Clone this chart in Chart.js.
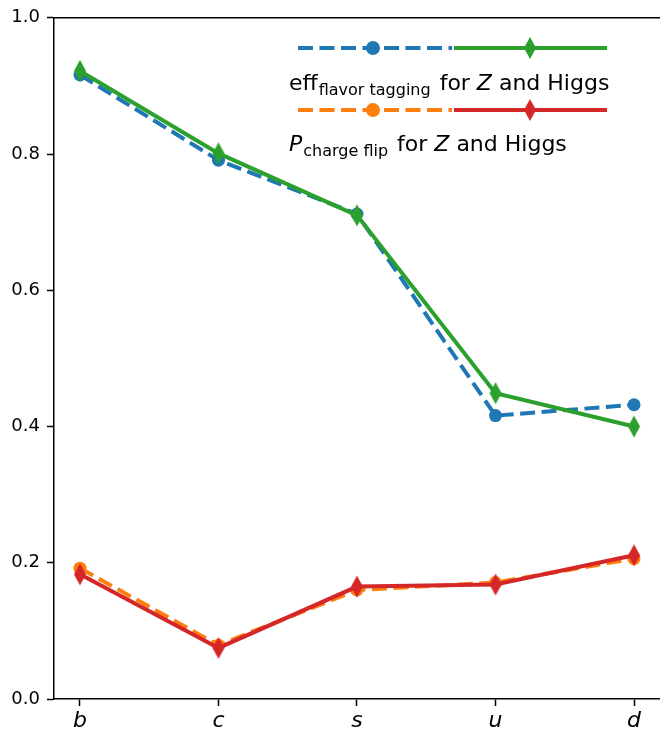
<!DOCTYPE html>
<html>
<head>
<meta charset="utf-8">
<script src="https://cdn.jsdelivr.net/npm/chart.js@4/dist/chart.umd.min.js"></script>
<style>
  html, body { margin: 0; padding: 0; background: #fff; }
  canvas { display: block; }
</style>
</head>
<body>
<canvas id="chart" width="660" height="736"></canvas>
<script>
var flavors = ['b', 'c', 's', 'u', 'd'];
var yTicks = [0.0, 0.2, 0.4, 0.6, 0.8, 1.0];

// flavour tagging efficiency
var effZ = [0.916, 0.791, 0.712, 0.416, 0.432];
var effHiggs = [0.922, 0.801, 0.710, 0.449, 0.400];
// charge flip probability
var flipZ = [0.192, 0.079, 0.160, 0.171, 0.206];
var flipHiggs = [0.183, 0.075, 0.165, 0.168, 0.211];

var BLUE = '#1f77b4', ORANGE = '#ff7f0e', GREEN = '#2ca02c', RED = '#d62728';
var FONT = '"DejaVu Sans", sans-serif';
var LW = 4;
var DASH = [15, 6.5];

function thinDiamond(color) {
  var c = document.createElement('canvas');
  c.width = 14; c.height = 24;
  var g = c.getContext('2d');
  g.fillStyle = color;
  g.beginPath();
  g.moveTo(7, 1); g.lineTo(13, 12); g.lineTo(7, 23); g.lineTo(1, 12);
  g.closePath();
  g.fill();
  return c;
}

function pts(vals) {
  return vals.map(function (v, i) { return { x: i, y: v }; });
}

function series(vals, color, dashed, order) {
  return {
    data: pts(vals),
    borderColor: color,
    backgroundColor: color,
    borderWidth: LW,
    borderDash: dashed ? DASH : [],
    pointStyle: dashed ? 'circle' : thinDiamond(color),
    pointRadius: 6.5,
    pointBorderWidth: 0,
    tension: 0,
    order: order
  };
}

// legend: two tuple handles (dashed+circle | solid+diamond) with labels below
var legendPlugin = {
  id: 'tupleLegend',
  afterDraw: function (chart) {
    var ctx = chart.ctx;
    var area = chart.chartArea;

    // top spine
    ctx.save();
    ctx.strokeStyle = '#000';
    ctx.lineWidth = 1.5;
    ctx.beginPath();
    ctx.moveTo(area.left, area.top);
    ctx.lineTo(660, area.top);
    ctx.stroke();
    ctx.restore();

    var rows = [
      { y: 48, c1: BLUE, c2: GREEN, main: 'eff', sub: 'flavor tagging', italic: false, base: 90 },
      { y: 110, c1: ORANGE, c2: RED, main: 'P', sub: 'charge flip', italic: true, base: 151 }
    ];
    rows.forEach(function (r) {
      ctx.save();
      ctx.lineWidth = LW;
      ctx.strokeStyle = r.c1;
      ctx.setLineDash(DASH);
      ctx.beginPath(); ctx.moveTo(298, r.y); ctx.lineTo(452, r.y); ctx.stroke();
      ctx.setLineDash([]);
      ctx.strokeStyle = r.c2;
      ctx.beginPath(); ctx.moveTo(454, r.y); ctx.lineTo(607, r.y); ctx.stroke();
      ctx.fillStyle = r.c1;
      ctx.beginPath(); ctx.arc(373, r.y, 7, 0, Math.PI * 2); ctx.fill();
      ctx.drawImage(thinDiamond(r.c2), 530 - 7, r.y - 12);

      ctx.fillStyle = '#000';
      ctx.textBaseline = 'alphabetic';
      ctx.textAlign = 'left';
      var x = 289;
      ctx.font = (r.italic ? 'italic ' : '') + '22px ' + FONT;
      ctx.fillText(r.main, x, r.base);
      x += ctx.measureText(r.main).width + 1;
      ctx.font = '16px ' + FONT;
      ctx.fillText(r.sub, x, r.base + 5);
      x += ctx.measureText(r.sub).width + 9;
      ctx.font = '22px ' + FONT;
      ctx.fillText('for ', x, r.base);
      x += ctx.measureText('for ').width;
      ctx.font = 'italic 22px ' + FONT;
      ctx.fillText('Z', x, r.base);
      x += ctx.measureText('Z').width;
      ctx.font = '22px ' + FONT;
      ctx.fillText(' and Higgs', x, r.base);
      ctx.restore();
    });
  }
};

var pad = 0.1877;

new Chart(document.getElementById('chart'), {
  type: 'line',
  data: {
    datasets: [
      series(effZ, BLUE, true, 4),
      series(flipZ, ORANGE, true, 3),
      series(effHiggs, GREEN, false, 2),
      series(flipHiggs, RED, false, 1)
    ]
  },
  options: {
    responsive: false,
    animation: false,
    layout: { autoPadding: false, padding: { top: 16, right: 0, left: 0, bottom: 0 } },
    plugins: { legend: { display: false }, tooltip: { enabled: false } },
    scales: {
      x: {
        type: 'linear',
        min: -pad,
        max: flavors.length - 1 + pad,
        afterBuildTicks: function (axis) {
          axis.ticks = flavors.map(function (f, i) { return { value: i }; });
        },
        afterFit: function (scale) {
          scale.height = 37;
          scale.paddingLeft = 0;
          scale.paddingRight = 0;
        },
        grid: { drawOnChartArea: false, tickLength: 7, color: '#000', tickWidth: 1.5 },
        border: { color: '#000', width: 1.5 },
        ticks: {
          color: '#000',
          padding: 2,
          maxRotation: 0,
          font: { family: FONT, size: 22, style: 'italic' },
          callback: function (v) { return flavors[v]; }
        }
      },
      y: {
        min: 0,
        max: 1,
        afterBuildTicks: function (axis) {
          axis.ticks = yTicks.map(function (v) { return { value: v }; });
        },
        afterFit: function (scale) { scale.width = 54; },
        grid: { drawOnChartArea: false, tickLength: 7, color: '#000', tickWidth: 1.5 },
        border: { color: '#000', width: 1.5 },
        ticks: {
          color: '#000',
          padding: 7,
          font: { family: FONT, size: 18 },
          callback: function (v) { return v.toFixed(1); }
        }
      }
    }
  },
  plugins: [legendPlugin]
});
</script>
</body>
</html>
